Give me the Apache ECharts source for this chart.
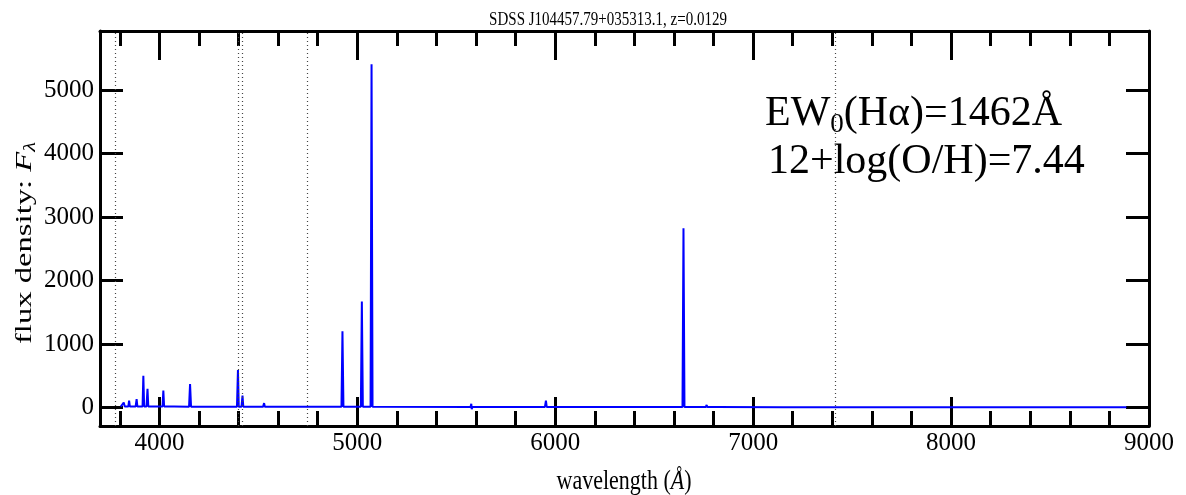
<!DOCTYPE html>
<html><head><meta charset="utf-8">
<script src="https://cdn.jsdelivr.net/npm/echarts@6/dist/echarts.min.js"></script>
<style>html,body{margin:0;padding:0;background:#fff}#c{width:1186px;height:495px}</style>
</head><body><div id="c"></div>
<script>
// ---- data ----
const titleText = 'SDSS J104457.79+035313.1, z=0.0129';
const wavelength = [
  3805, 3815, 3820, 3825, 3843, 3847, 3851, 3880, 3885, 3889,
  3915, 3919, 3923, 3935, 3940, 3944, 3990, 4016, 4020, 4024,
  4074, 4079, 4083, 4150, 4155, 4160, 4392, 4397, 4401, 4415,
  4420, 4424, 4524, 4529, 4533, 4742, 4746, 4750, 4796, 4800,
  4804, 4920, 4925, 4930, 5018, 5023, 5028, 5067, 5072, 5077,
  5572, 5576, 5578, 5582, 5948, 5953, 5957, 6376, 6381, 6385,
  6643, 6648, 6653, 6760, 6765, 6769, 6799, 6803, 6807, 6814,
  6818, 6822, 7152, 7157, 7161, 7225, 7229, 7233, 7410, 7415,
  7420, 8000, 8886
];
const flux = [
  14, 16, 80, 16, 16, 110, 16, 16, 132, 16,
  18, 500, 19, 19, 295, 18, 18, 18, 268, 18,
  17, 35, 16, 15, 369, 15, 14, 590, 14, 14,
  190, 14, 13, 70, 13, 12, 28, 12, 12, 22,
  12, 12, 1200, 12, 12, 1672, 12, 12, 5405, 12,
  10, 60, -25, 10, 10, 110, 10, 8, 22, 8,
  8, 2823, 8, 8, 40, 8, 8, 35, 8, 8,
  30, 8, 7, 25, 7, 7, 20, 7, 6, 15,
  6, 6, 5
];
const xMajorTicks = [4000, 5000, 6000, 7000, 8000, 9000];
const xMinorTicks = [3800, 4200, 4400, 4600, 4800, 5200, 5400, 5600, 5800,
  6200, 6400, 6600, 6800, 7200, 7400, 7600, 7800, 8200, 8400, 8600, 8800];
const yMajorTicks = [0, 1000, 2000, 3000, 4000, 5000];
const markerLines = [3776, 4399, 4419, 4746, 7417];
const xRange = [3700, 9000];
const yRange = [-290, 5930];

// ---- chart ----
const FONT = '"Liberation Serif", "Times New Roman", serif';
const chart = echarts.init(document.getElementById('c'), null, {renderer: 'canvas'});
const plain = v => String(v);

function xAx(pos, ticks, len, showLabel, showLine) {
  return {
    type: 'value', position: pos, min: xRange[0], max: xRange[1],
    axisLine: {show: showLine, onZero: false, lineStyle: {color: '#000', width: 3}},
    axisTick: {show: true, inside: true, length: len, customValues: ticks, lineStyle: {color: '#000', width: 3}},
    axisLabel: {show: showLabel, customValues: ticks, formatter: plain, color: '#000', fontFamily: FONT, fontSize: 25, margin: 5},
    splitLine: {show: false}, minorTick: {show: false}
  };
}
function yAx(pos, showLabel) {
  return {
    type: 'value', position: pos, min: yRange[0], max: yRange[1],
    axisLine: {show: true, onZero: false, lineStyle: {color: '#000', width: 3}},
    axisTick: {show: true, inside: true, length: 23, customValues: yMajorTicks, lineStyle: {color: '#000', width: 3}},
    axisLabel: {show: showLabel, customValues: yMajorTicks, formatter: plain, color: '#000', fontFamily: FONT, fontSize: 25, margin: 6},
    splitLine: {show: false}
  };
}

const seriesData = wavelength.map((w, i) => [w, flux[i]]);

chart.setOption({
  animation: false,
  backgroundColor: '#fff',
  grid: {left: 100, right: 37, top: 31, bottom: 69, containLabel: false},
  xAxis: [
    xAx('bottom', xMajorTicks, 29, true, true),
    xAx('bottom', xMinorTicks, 15, false, false),
    xAx('top', xMajorTicks, 29, false, true),
    xAx('top', xMinorTicks, 15, false, false)
  ],
  yAxis: [yAx('left', true), yAx('right', false)],
  series: [{
    type: 'line', xAxisIndex: 0, yAxisIndex: 0,
    data: seriesData, showSymbol: false, sampling: null,
    lineStyle: {color: '#0000ff', width: 2}, itemStyle: {color: '#0000ff'},
    markLine: {
      silent: true, symbol: ['none', 'none'], animation: false,
      label: {show: false},
      lineStyle: {type: [1, 3], color: '#444', width: 1.2},
      data: markerLines.map(v => ({xAxis: v}))
    },
    z: 3
  }],
  graphic: [
    {type: 'text', x: 608, y: 20, scaleY: 1.3, style: {text: titleText, fontFamily: FONT, fontSize: 15, fill: '#000',
      align: 'center', verticalAlign: 'middle', textAlign: 'center', textVerticalAlign: 'middle'}},
    {type: 'text', x: 25, y: 243, rotation: Math.PI / 2, scaleX: 1.42,
      style: {text: '{n|flux density: }{f|F}{s|λ}', fill: '#000', align: 'center', verticalAlign: 'middle',
        textAlign: 'center', textVerticalAlign: 'middle',
        rich: {
          n: {fontFamily: FONT, fontSize: 23, lineHeight: 28, fill: '#000'},
          f: {fontFamily: FONT, fontSize: 23, fontStyle: 'italic', lineHeight: 28, fill: '#000'},
          s: {fontFamily: FONT, fontSize: 16, fontStyle: 'italic', lineHeight: 12, verticalAlign: 'bottom', fill: '#000'}
        }}},
    {type: 'text', x: 624, y: 482, scaleY: 1.2,
      style: {text: '{n|wavelength (}{i|Å}{n|)}', fill: '#000', align: 'center', verticalAlign: 'middle',
        textAlign: 'center', textVerticalAlign: 'middle',
        rich: {
          n: {fontFamily: FONT, fontSize: 22, fill: '#000'},
          i: {fontFamily: FONT, fontSize: 22, fontStyle: 'italic', fill: '#000'}
        }}},
    {type: 'text', x: 765, y: 90, z: 10,
      style: {text: '{a|EW}{s|0}{a|(Hα)=1462Å}', fill: '#000', align: 'left', verticalAlign: 'top',
        textAlign: 'left', textVerticalAlign: 'top',
        rich: {
          a: {fontFamily: FONT, fontSize: 42, lineHeight: 48, fill: '#000'},
          s: {fontFamily: FONT, fontSize: 27, lineHeight: 20, verticalAlign: 'bottom', fill: '#000'}
        }}},
    {type: 'text', x: 768, y: 162, z: 10,
      style: {text: '12+log(O/H)=7.44', fontFamily: FONT, fontSize: 42, fill: '#000',
        align: 'left', verticalAlign: 'middle', textAlign: 'left', textVerticalAlign: 'middle'}}
  ]
});
</script></body></html>
